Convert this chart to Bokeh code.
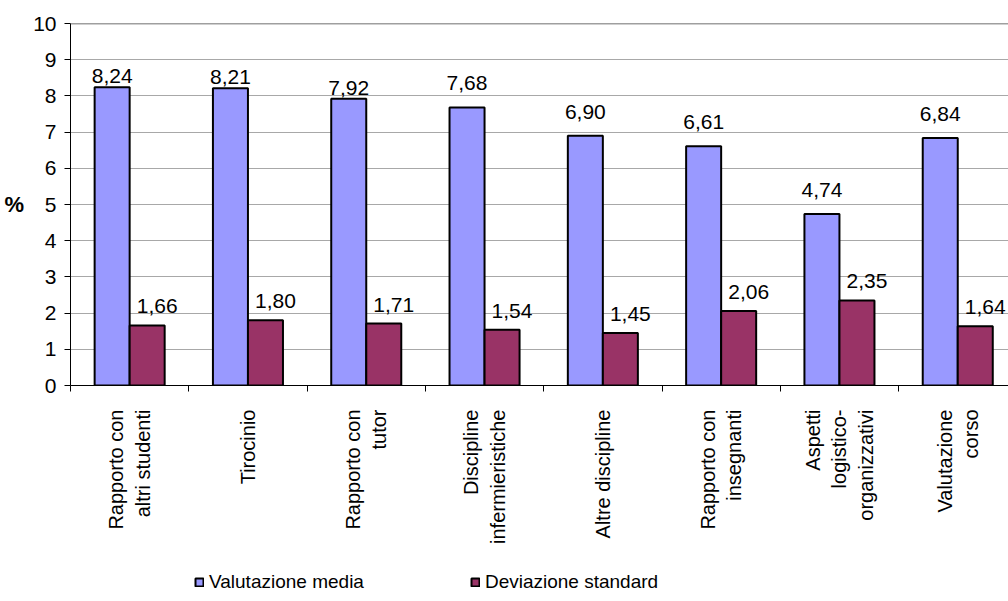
import math
from bokeh.plotting import figure
from bokeh.layouts import column
from bokeh.models import (ColumnDataSource, Range1d, FixedTicker, LabelSet,
                          Legend, LegendItem, Span)
from bokeh.core.properties import value
from bokeh.transform import dodge
from bokeh.embed import file_html
from bokeh.resources import INLINE

# Survey areas and scores
categories = ["Rapporto con\naltri studenti", "Tirocinio", "Rapporto con\ntutor",
              "Discipline\ninfermieristiche", "Altre discipline",
              "Rapporto con\ninsegnanti", "Aspetti\nlogistico-\norganizzativi",
              "Valutazione\ncorso"]
valutazione_media = [8.24, 8.21, 7.92, 7.68, 6.90, 6.61, 4.74, 6.84]
deviazione_standard = [1.66, 1.80, 1.71, 1.54, 1.45, 2.06, 2.35, 1.64]
series_names = ["Valutazione media", "Deviazione standard"]
y_ticks = list(range(0, 11))

FONT = "Liberation Sans"
BLUE = "#9999FF"
WINE = "#993366"
BAR_W = 0.296

def fmt(v):
    return f"{v:.2f}".replace(".", ",")

centers = [i + 0.5 for i in range(len(categories))]
src = ColumnDataSource(dict(
    x=centers,
    media=valutazione_media,
    dev=deviazione_standard,
    media_lbl=[fmt(v) for v in valutazione_media],
    dev_lbl=[fmt(v) for v in deviazione_standard],
))

def subset(idx):
    return ColumnDataSource({k: [v[i] for i in idx] for k, v in src.data.items()})

p = figure(width=1008, height=560,
           x_range=Range1d(0, 938 / 118.3), y_range=Range1d(0, 10),
           output_backend="svg", toolbar_location=None,
           min_border_left=70, min_border_right=0,
           min_border_top=23, min_border_bottom=175)
p.outline_line_color = None
p.background_fill_color = "white"
p.border_fill_color = "white"

bar_style = dict(line_color="black", line_width=2)
p.vbar(x=dodge("x", -BAR_W / 2, range=p.x_range), top="media", width=BAR_W,
       source=src, fill_color=BLUE, **bar_style)
p.vbar(x=dodge("x", BAR_W / 2, range=p.x_range), top="dev", width=BAR_W,
       source=src, fill_color=WINE, **bar_style)

# value labels (the three tallest blue bars keep their labels tight)
lab_style = dict(text_font=value(FONT), text_font_size="21px", text_color="black",
                 text_align="center", text_baseline="alphabetic")
n = len(categories)
p.add_layout(LabelSet(x=dodge("x", -BAR_W / 2, range=p.x_range), y="media",
                      text="media_lbl", source=subset(range(0, 3)), y_offset=4, **lab_style))
p.add_layout(LabelSet(x=dodge("x", -BAR_W / 2, range=p.x_range), y="media",
                      text="media_lbl", source=subset(range(3, n)), y_offset=17, **lab_style))
p.add_layout(LabelSet(x=dodge("x", BAR_W / 2, range=p.x_range), y="dev",
                      text="dev_lbl", source=src, x_offset=10, y_offset=12, **lab_style))

# grid
p.xgrid.visible = False
p.ygrid.ticker = FixedTicker(ticks=y_ticks)
p.ygrid.grid_line_color = "#A8A8A8"
p.ygrid.grid_line_width = 1
p.add_layout(Span(location=10, dimension="width", line_color="#404040", line_width=1.5))

# y axis
p.yaxis.ticker = FixedTicker(ticks=y_ticks)
p.yaxis.axis_line_color = "black"
p.yaxis.major_tick_out = 6
p.yaxis.major_tick_in = 0
p.yaxis.minor_tick_line_color = None
p.yaxis.major_label_standoff = 8
p.yaxis.major_label_text_font = FONT
p.yaxis.major_label_text_font_size = "21px"
p.yaxis.major_label_text_color = "black"
p.yaxis.axis_label = "%"
p.yaxis.axis_label_orientation = "horizontal"
p.yaxis.axis_label_standoff = 6
p.yaxis.axis_label_text_font = FONT
p.yaxis.axis_label_text_font_size = "22px"
p.yaxis.axis_label_text_font_style = "bold"
p.yaxis.axis_label_text_color = "black"

# x axis: category names at centres, tick marks at boundaries
p.xaxis.ticker = FixedTicker(ticks=centers, minor_ticks=list(range(n + 1)))
p.xaxis.major_label_overrides = {c: name for c, name in zip(centers, categories)}
p.xaxis.major_tick_out = 0
p.xaxis.major_tick_in = 0
p.xaxis.minor_tick_out = 6
p.xaxis.minor_tick_in = 0
p.xaxis.minor_tick_line_color = "black"
p.xaxis.axis_line_color = "black"
p.xaxis.major_label_orientation = math.pi / 2
p.xaxis.major_label_standoff = 18
p.xaxis.major_label_text_font = FONT
p.xaxis.major_label_text_font_size = "20px"
p.xaxis.major_label_text_color = "black"
p.xaxis.major_label_text_align = "center"

# legend strip under the chart; its key glyphs carry no drawable data
lg = figure(width=1008, height=41, x_range=Range1d(0, 1), y_range=Range1d(0, 1),
            output_backend="svg", toolbar_location=None, min_border=0)
lg.axis.visible = False
lg.grid.visible = False
lg.outline_line_color = None
k1 = lg.vbar(x=[0.5], top=[float("nan")], width=0.1, fill_color=BLUE, **bar_style)
k2 = lg.vbar(x=[0.5], top=[float("nan")], width=0.1, fill_color=WINE, **bar_style)
legend = Legend(items=[LegendItem(label=series_names[0], renderers=[k1]),
                       LegendItem(label=series_names[1], renderers=[k2])],
                location=(124, 8), orientation="horizontal",
                glyph_width=10, glyph_height=10, label_standoff=5, spacing=106,
                padding=0, margin=0, border_line_alpha=0, background_fill_alpha=0,
                label_text_font=FONT, label_text_font_size="19px",
                label_text_color="black")
lg.add_layout(legend)

open("out.html", "w").write(file_html(column(p, lg, spacing=0), INLINE))
